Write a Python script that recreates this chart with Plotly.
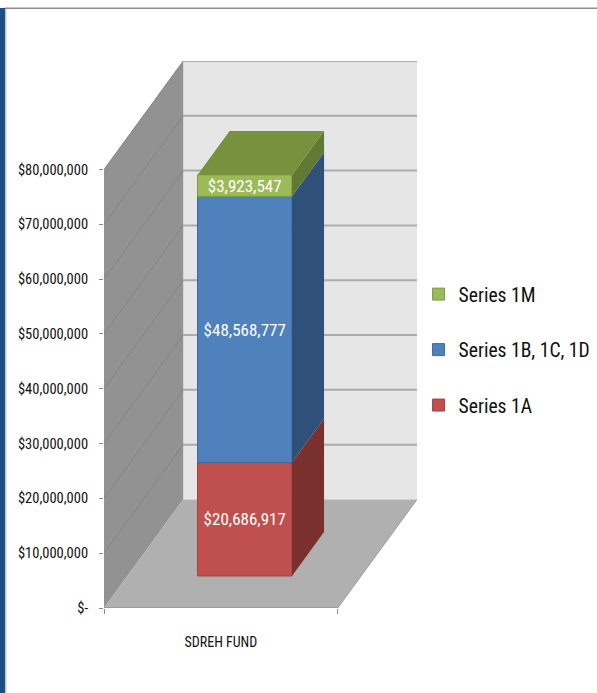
import plotly.graph_objects as go

category = "SDREH FUND"
series_names = ["Series 1A", "Series 1B, 1C, 1D", "Series 1M"]
series_values = [20686917, 48568777, 3923547]
front_colors = ["#C0504D", "#4F81BD", "#9BBB59"]
edge_colors = ["#A5413E", "#41699B", "#7F9A48"]
side_colors = ["#7A302E", "#2F5078", "#607A34"]
top_color = "#76923C"
tick_values = [0, 10e6, 20e6, 30e6, 40e6, 50e6, 60e6, 70e6, 80e6]
tick_labels = ["$-", "$10,000,000", "$20,000,000", "$30,000,000", "$40,000,000",
               "$50,000,000", "$60,000,000", "$70,000,000", "$80,000,000"]

FONT = "Roboto Condensed, Carlito, sans-serif"
W, H = 597, 693
ML, MR, MT, MB = 104, 180, 61, 85

# oblique projection: depth 1 moves this far along each axis
DX, DY = 0.339, 19.8e6
BAR_L, BAR_R = 0.30, 0.704
D0, D1 = 0.295, 0.70


def proj(u, d, v):
    return u + d * DX, v + d * DY


def path(pts):
    return "M" + "L".join(f"{x},{y}" for x, y in pts) + "Z"


def poly(pts, color):
    return dict(type="path", xref="x", yref="y", layer="below", path=path(pts),
                fillcolor=color, line=dict(width=0))


def seg(p, q, color, width):
    return dict(type="line", xref="x", yref="y", layer="below", x0=p[0], y0=p[1], x1=q[0], y1=q[1],
                line=dict(color=color, width=width))


vmax = tick_values[-1]
shapes = [
    poly([proj(0, 1, 0), proj(1, 1, 0), proj(1, 1, vmax), proj(0, 1, vmax)], "#E6E6E6"),
    poly([proj(0, 0, 0), proj(0, 1, 0), proj(0, 1, vmax), proj(0, 0, vmax)], "#929292"),
    poly([proj(0, 0, 0), proj(1, 0, 0), proj(1, 1, 0), proj(0, 1, 0)], "#B0B0B0"),
]
for v in tick_values[1:]:
    shapes.append(seg(proj(0, 1, v), proj(1, 1, v), "#ABABAB", 2))
    shapes.append(seg(proj(0, 0, v), proj(0, 1, v), "#858585", 1))
shapes.append(seg(proj(0, 0, 0), proj(1, 0, 0), "#999999", 2))
shapes.append(seg(proj(1, 0, 0), proj(1, 1, 0), "#A0A0A0", 1))


# page frame, paper coordinates converted from pixels
def px(x):
    return (x - ML) / (W - ML - MR)


def py(y):
    return 1 - (y - MT) / (H - MT - MB)


def frame(x0, y0, x1, y1, color):
    return dict(type="rect", xref="paper", yref="paper", layer="below",
                x0=px(x0), y0=py(y0), x1=px(x1), y1=py(y1), fillcolor=color, line=dict(width=0))


shapes += [
    frame(0, 8, 5, H, "#1F4E86"),
    frame(5, 8, 6.5, H, "#C8C8C8"),
    frame(5, 7.5, W, 9, "#8C8C8C"),
]

fig = go.Figure()
bar_x = (BAR_L + BAR_R) / 2 + D0 * DX
base = 0
polys = []
for i, (name, value, fc, ec, sc) in enumerate(zip(series_names, series_values, front_colors, edge_colors, side_colors)):
    fig.add_trace(go.Bar(
        x=[bar_x], y=[value], base=[base + D0 * DY], width=[BAR_R - BAR_L], name=name,
        legendgroup=name, legendrank=100 - i, marker=dict(color=fc, line=dict(color=ec, width=1)),
        text=[f"${value:,.0f}"], textposition="inside", insidetextanchor="middle",
        constraintext="none", textangle=0,
        insidetextfont=dict(color="white", size=17, family=FONT), hoverinfo="skip"))
    polys.append(([proj(BAR_R, D0, base), proj(BAR_R, D1, base),
                   proj(BAR_R, D1, base + value), proj(BAR_R, D0, base + value)], sc))
    base += value
polys.append(([proj(BAR_L, D0, base), proj(BAR_R, D0, base),
               proj(BAR_R, D1, base), proj(BAR_L, D1, base)], top_color))
for pts, c in polys:
    fig.add_trace(go.Scatter(x=[p[0] for p in pts] + [pts[0][0]], y=[p[1] for p in pts] + [pts[0][1]],
                             mode="lines", fill="toself", fillcolor=c, line=dict(width=0),
                             showlegend=False, hoverinfo="skip"))

fig.update_layout(
    width=W, height=H, autosize=False, margin=dict(l=ML, r=MR, t=MT, b=MB, autoexpand=False),
    paper_bgcolor="white", plot_bgcolor="white", barmode="overlay", shapes=shapes,
    font=dict(family=FONT, color="#111111"),
    legend=dict(x=1.005, y=0.609, xanchor="left", yanchor="top", traceorder="grouped",
                tracegroupgap=27, font=dict(size=19.6, family=FONT), itemwidth=30,
                bgcolor="rgba(0,0,0,0)"),
    xaxis=dict(range=[0, 1 + DX], showgrid=False, zeroline=False, showline=False, automargin=False,
               tickmode="array", tickvals=[0.5], ticktext=[category], ticks="", ticklabelstandoff=24,
               tickfont=dict(size=14, family=FONT),
               minor=dict(tickmode="array", tickvals=[0, 1], ticks="outside", ticklen=5,
                          tickcolor="#8C8C8C", tickwidth=1)),
    yaxis=dict(range=[0, vmax + DY], showgrid=False, zeroline=False, showline=False, automargin=False,
               tickmode="array", tickvals=tick_values, ticktext=tick_labels, ticks="outside",
               ticklen=4, tickcolor="#8C8C8C", tickwidth=1, ticklabelstandoff=8,
               tickfont=dict(size=14.5, family=FONT)),
)
fig.write_html("out.html", config={"displayModeBar": False},
               post_script="document.body.style.margin='0';")
